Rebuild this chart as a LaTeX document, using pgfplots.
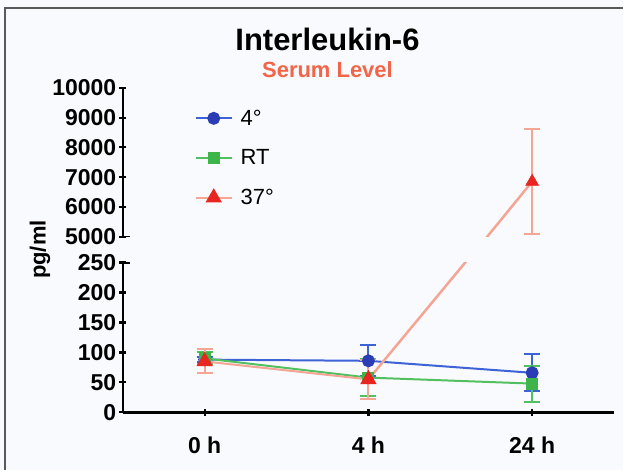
\documentclass[border=0pt]{standalone}
\usepackage{fontspec}
\setmainfont{Liberation Sans}
\usepackage{pgfplots}
\pgfplotsset{compat=1.18}
\definecolor{bg}{HTML}{F9FAFD}
\definecolor{cblue}{HTML}{2B3DB5}
\definecolor{lblue}{HTML}{3D63D6}
\definecolor{cgreen}{HTML}{3DB54A}
\definecolor{lgreen}{HTML}{52C060}
\definecolor{cred}{HTML}{E8251E}
\definecolor{lred}{HTML}{F4A593}
\definecolor{tred}{HTML}{F26549}
\pgfplotsset{
  brk/.style={
    scale only axis, width=492pt, xmin=-0.5, xmax=2.5,
    tick style={line width=2.2pt, black},
    tick align=outside, major tick length=7pt,
    scaled y ticks=false,
    /pgf/number format/assume math mode=true,
    /pgf/number format/1000 sep={},
    ticklabel style={font=\fontsize{23}{26}\selectfont\bfseries},
    yticklabel style={xshift=0pt, inner xsep=3pt},
  },
  ebs/.style={/pgfplots/error bars/y dir=both, /pgfplots/error bars/y explicit,
    /pgfplots/error bars/error bar style={line width=2pt, #1},
    /pgfplots/error bars/error mark options={rotate=90, line width=2pt, mark size=8pt, #1}},
}
\begin{document}
\begin{tikzpicture}[x=1pt,y=1pt]
\fill[bg] (0,0) rectangle (624,471);
\draw[black!65, line width=2pt] (5,0) -- (5,463) -- (624,463);
\node[font=\fontsize{31}{34}\selectfont\bfseries] at (328,431) {Interleukin-6};
\node[font=\fontsize{22}{26}\selectfont\bfseries, text=tred] at (328,401) {Serum Level};
\node[rotate=90, font=\fontsize{22}{26}\selectfont\bfseries] at (40,221) {pg/ml};

% lower segment
\begin{axis}[brk, at={(123pt,58pt)}, anchor=south west, height=150pt,
  ymin=0, ymax=250, ytick={0,50,...,250},
  axis x line=bottom, axis y line=left,
  axis line style={-, line width=2.5pt, black},
  xtick={0,1,2}, xticklabels={0 h,4 h,24 h},
  xticklabel style={yshift=-18pt},
  clip=true]
\addplot[lblue, line width=2pt, mark=*, mark size=5.5pt,
  mark options={fill=cblue, draw=cblue}, ebs=lblue]
  coordinates {(0,88) +- (0,4) (1,86) +- (0,26) (2,66) +- (0,31)};
\addplot[lgreen, line width=2pt, mark=square*, mark size=5pt,
  mark options={fill=cgreen, draw=cgreen}, ebs=lgreen]
  coordinates {(0,90) +- (0,10) (1,58) +- (0,31) (2,48) +- (0,30)};
\addplot[lred, line width=2.5pt] coordinates {(1,55) (2,385)};
\addplot[lred, line width=2pt, mark=triangle*, mark size=7.5pt,
  mark options={fill=cred, draw=cred}, ebs=lred]
  coordinates {(0,85) +- (0,20) (1,55) +- (0,33)};
\draw[line width=2.2pt] ([xshift=-7pt]rel axis cs:0,1) -- ([xshift=7pt]rel axis cs:0,1);
\end{axis}

% upper segment
\begin{axis}[brk, at={(123pt,234pt)}, anchor=south west, height=149pt,
  ymin=5000, ymax=10000, ytick={5000,6000,...,10000},
  axis x line=none, axis y line=left,
  axis line style={-, line width=2.5pt, black},
  clip=true,
  legend style={at={(0.14,0.88)}, anchor=north west, draw=none, fill=none,
    font=\fontsize{22}{26}\selectfont, row sep=19pt,
    nodes={inner xsep=8pt}},
  legend cell align=left,
  legend image code/.code={\draw[mark repeat=2,mark phase=2,#1] plot coordinates {(0pt,0pt) (18pt,0pt) (36pt,0pt)};}]
\addlegendimage{lblue, line width=2pt, mark=*, mark size=5.5pt, mark options={fill=cblue, draw=cblue}}
\addlegendentry{4°}
\addlegendimage{lgreen, line width=2pt, mark=square*, mark size=5pt, mark options={fill=cgreen, draw=cgreen}}
\addlegendentry{RT}
\addlegendimage{lred, line width=2pt, mark=triangle*, mark size=7.5pt, mark options={fill=cred, draw=cred}}
\addlegendentry{37°}
\addplot[lred, line width=2.5pt, forget plot] coordinates {(1,101) (2,6850)};
\addplot[lred, only marks, mark=triangle*, mark size=7.5pt,
  mark options={fill=cred, draw=cred}, forget plot, ebs=lred]
  coordinates {(2,6850) +- (0,1760)};
\draw[line width=2.2pt] ([xshift=-7pt]rel axis cs:0,0) -- ([xshift=7pt]rel axis cs:0,0);
\end{axis}
\end{tikzpicture}
\end{document}
